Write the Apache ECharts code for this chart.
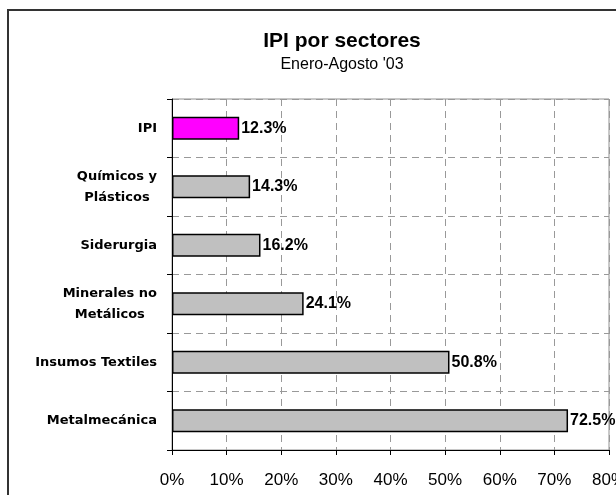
<!DOCTYPE html>
<html>
<head>
<meta charset="utf-8">
<script src="https://cdn.jsdelivr.net/npm/echarts@6/dist/echarts.min.js"></script>
<style>
  html, body { margin: 0; padding: 0; background: #fff; }
  #chart { width: 616px; height: 495px; }
</style>
</head>
<body>
<div id="chart"></div>
<script>
const sectors = [
  "IPI",
  "Químicos y\nPlásticos",
  "Siderurgia",
  "Minerales no\nMetálicos",
  "Insumos Textiles",
  "Metalmecánica"
];
const growth = [12.3, 14.3, 16.2, 24.1, 50.8, 72.5];
const barColors = ["#ff00ff", "#c0c0c0", "#c0c0c0", "#c0c0c0", "#c0c0c0", "#c0c0c0"];

const chart = echarts.init(document.getElementById("chart"));

chart.setOption({
  backgroundColor: "#ffffff",
  animation: false,
  title: {
    text: "IPI por sectores",
    subtext: "Enero-Agosto '03",
    left: 337,
    textAlign: "center",
    top: 26,
    itemGap: 5,
    textStyle: {
      fontFamily: "Liberation Sans",
      fontSize: 21,
      fontWeight: "bold",
      color: "#000"
    },
    subtextStyle: {
      fontFamily: "Liberation Sans",
      fontSize: 16,
      color: "#000"
    }
  },
  graphic: [
    {
      type: "rect",
      shape: { x: 8, y: 10, width: 700, height: 600 },
      style: { fill: "none", stroke: "#333", lineWidth: 2 },
      silent: true
    }
  ],
  grid: {
    left: 172,
    right: 7,
    top: 99,
    bottom: 45,
    outerBoundsMode: "none",
    containLabel: false,
    show: true,
    borderColor: "#909090",
    borderWidth: 1
  },
  xAxis: {
    type: "value",
    min: 0,
    max: 80,
    interval: 10,
    axisLine: { show: true, lineStyle: { color: "#000", width: 1 } },
    axisTick: { show: true, length: 5, lineStyle: { color: "#000" } },
    axisLabel: {
      formatter: "{value}%",
      margin: 22,
      fontFamily: "Liberation Sans",
      fontSize: 17,
      color: "#000"
    },
    splitLine: {
      show: true,
      lineStyle: { color: "#999", type: [7, 5], width: 1 }
    }
  },
  yAxis: {
    type: "category",
    inverse: true,
    data: sectors,
    axisLine: { show: true, lineStyle: { color: "#000", width: 1 } },
    axisTick: { show: true, length: 5, lineStyle: { color: "#000" } },
    axisLabel: {
      margin: 15,
      formatter: function (v) {
        return v.split("\n").map(s => "{c|" + s + "}").join("\n");
      },
      rich: {
        c: {
          align: "center",
          fontFamily: "DejaVu Sans",
          fontSize: 13,
          fontWeight: "bold",
          color: "#000",
          lineHeight: 21
        }
      }
    },
    splitLine: {
      show: true,
      lineStyle: { color: "#999", type: [7, 5], width: 1 }
    }
  },
  series: [
    {
      type: "bar",
      data: growth.map((v, i) => ({
        value: v,
        itemStyle: { color: barColors[i] }
      })),
      barWidth: "39%",
      itemStyle: {
        borderColor: "#000",
        borderWidth: 1.5
      },
      label: {
        show: true,
        position: "right",
        distance: 2,
        formatter: p => p.value.toFixed(1) + "%",
        fontFamily: "Liberation Sans",
        fontSize: 16,
        fontWeight: "bold",
        color: "#000"
      }
    }
  ]
});
</script>
</body>
</html>
